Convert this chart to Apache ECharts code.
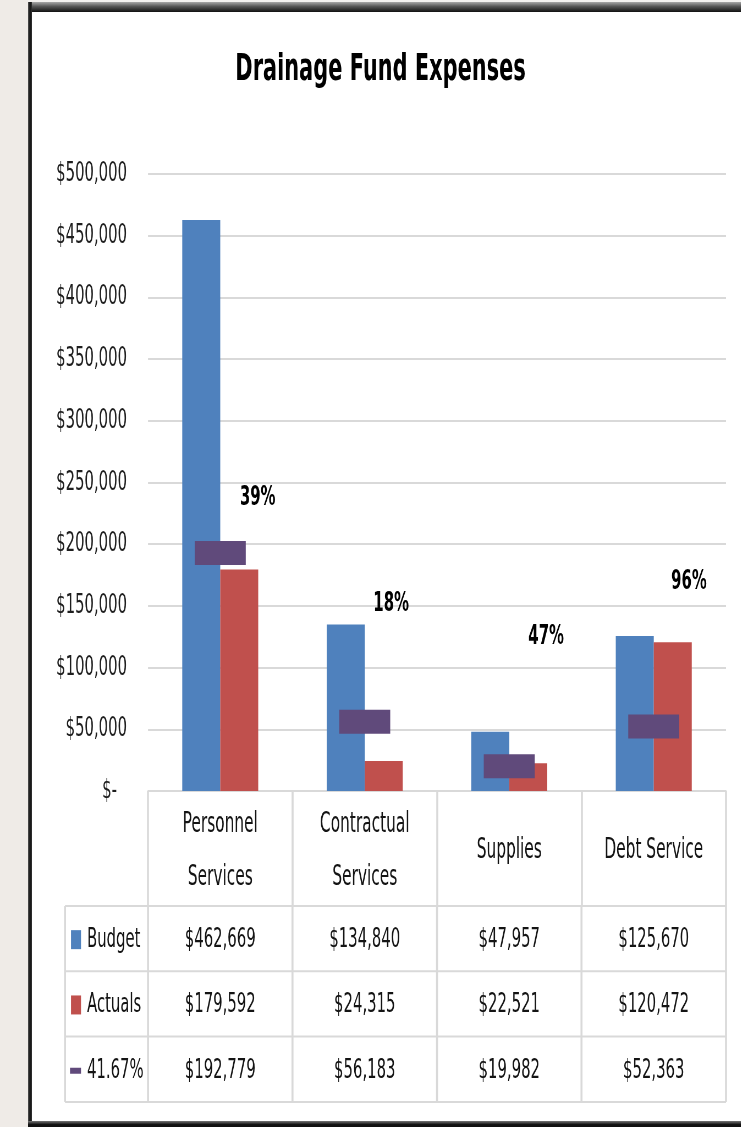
<!DOCTYPE html>
<html>
<head>
<meta charset="utf-8">
<script src="https://cdn.jsdelivr.net/npm/echarts@6/dist/echarts.min.js"></script>
<style>
  html, body { margin: 0; padding: 0; background: #fff; width: 741px; height: 1127px; overflow: hidden; position: relative; }
  #strip  { position: absolute; left: 0; top: 0; width: 28px; height: 1127px; background: #efebe7; }
  #topfill{ position: absolute; left: 28px; top: 0; width: 713px; height: 2px; background: #f4f2f0; }
  #frameL { position: absolute; left: 28px; top: 2px; width: 4px; height: 1125px; background: linear-gradient(90deg, #555, #111 50%, #333); }
  #frameT { position: absolute; left: 28px; top: 2px; width: 713px; height: 10px; background: linear-gradient(#a8a8a8, #555 45%, #111); }
  #frameB { position: absolute; left: 28px; top: 1121px; width: 713px; height: 6px; background: linear-gradient(#777, #111 60%); }
  /* the chart is laid out wide and drawn condensed horizontally */
  #chart  { position: absolute; left: 0; top: 0; width: 1348px; height: 1127px; transform: scaleX(0.55); transform-origin: 0 0; }
</style>
</head>
<body>
<div id="strip"></div>
<div id="topfill"></div>
<div id="frameT"></div>
<div id="frameL"></div>
<div id="frameB"></div>
<div id="chart"></div>
<script>
// ---- data ----
const categories = ['Personnel\nServices', 'Contractual\nServices', 'Supplies', 'Debt Service'];
const budget  = [462669, 134840, 47957, 125670];
const actuals = [179592, 24315, 22521, 120472];
const target  = [192779, 56183, 19982, 52363];   // 41.67% of budget
const seriesNames = ['Budget', 'Actuals', '41.67%'];
const yMin = 0, yMax = 500000, yStep = 50000;
// height (in dollars) at which each spent-ratio label is placed
const ratioLabelAt = [237440, 151540, 124800, 169370];

// ---- layout helpers ----
const SX = 0.55;                 // horizontal condensing of the canvas
const vx = a => a / SX;          // on-screen width -> canvas width
const FONT = 'DejaVu Sans';
const GRID = '#d9d9d9';
const TEXT = '#141414';
const COLORS = ['#4f81bd', '#c0504d', '#604a7b'];
const ratioOffsets = [68, 48, 67, 64];

const money = v => '$' + v.toLocaleString('en-US');

const chart = echarts.init(document.getElementById('chart'), null, { renderer: 'canvas' });

chart.setOption({
  animation: false,
  backgroundColor: 'transparent',
  grid: { left: vx(148), right: 1348 - vx(726), top: 174, bottom: 336, containLabel: false },
  xAxis: {
    type: 'category',
    data: categories,
    axisLine: { show: true, lineStyle: { color: GRID, width: 2 } },
    axisTick: { show: true, interval: 0, length: 115, lineStyle: { color: GRID, width: vx(2) } },
    axisLabel: {
      interval: 0, margin: 60, verticalAlign: 'middle', lineHeight: 53,
      fontFamily: FONT, fontSize: 28, color: TEXT
    },
    splitLine: { show: false }
  },
  yAxis: {
    type: 'value',
    min: yMin, max: yMax, interval: yStep,
    axisLine: { show: false },
    axisTick: { show: false },
    splitLine: { show: true, lineStyle: { color: GRID, width: 2 } },
    axisLabel: {
      margin: vx(21), fontFamily: FONT, fontSize: 27, color: '#1e1e1e',
      formatter: v => v === 0 ? '{z|$-}' : money(v),
      rich: { z: { fontFamily: FONT, fontSize: 27, color: '#1e1e1e', padding: [0, vx(10), 0, 0] } }
    }
  },
  series: [
    {
      name: seriesNames[0], type: 'bar', data: budget,
      barWidth: vx(38), barGap: '0%',
      itemStyle: { color: COLORS[0] }
    },
    {
      name: seriesNames[1], type: 'bar', data: actuals,
      barWidth: vx(38), barGap: '0%',
      itemStyle: { color: COLORS[1] }
    },
    {
      name: seriesNames[2], type: 'scatter', data: target,
      symbol: 'rect', symbolSize: [vx(51), 24], z: 4,
      itemStyle: { color: COLORS[2], opacity: 1 }
    },
    {
      name: 'ratio', type: 'scatter', symbolSize: 0, silent: true, z: 5,
      itemStyle: { opacity: 1 },
      data: ratioLabelAt.map((y, i) => ({ value: [i, y], label: { offset: [ratioOffsets[i], 0] } })),
      label: {
        show: true, position: 'inside', opacity: 1,
        fontFamily: FONT, fontSize: 27, fontWeight: 'bold', color: '#000',
        formatter: p => Math.round(actuals[p.dataIndex] / budget[p.dataIndex] * 100) + '%'
      }
    }
  ]
});

// ---- title and data table ----
function buildTable() {
  const cx = categories.map((_, i) => chart.convertToPixel({ xAxisIndex: 0 }, i));
  const band = cx[1] - cx[0];
  const xl = cx[0] - band / 2;
  const xr = cx[cx.length - 1] + band / 2;
  const y0 = chart.convertToPixel({ yAxisIndex: 0 }, 0);
  const headerH = 115, rowH = 65.3;
  const top = y0 + headerH;
  const legendLeft = xl - vx(83);
  const rows = [budget, actuals, target];
  const els = [];

  els.push({
    type: 'text', x: vx(380.5), y: 70,
    style: { text: 'Drainage Fund Expenses', align: 'center', verticalAlign: 'middle',
             fontFamily: FONT, fontSize: 38, fontWeight: 'bold', fill: '#000' }
  });

  const line = (x1, y1, x2, y2, w) => ({
    type: 'line', shape: { x1, y1, x2, y2 }, silent: true,
    style: { stroke: GRID, lineWidth: w }
  });

  for (let r = 0; r <= rows.length; r++) {
    const y = top + r * rowH;
    els.push(line(legendLeft, y, xr, y, 2));
  }
  const bottom = top + rows.length * rowH;
  els.push(line(legendLeft, top, legendLeft, bottom, vx(2)));
  for (let c = 0; c <= categories.length; c++) {
    const x = xl + c * band;
    els.push(line(x, top, x, bottom, vx(2)));
  }

  rows.forEach((vals, r) => {
    const yc = top + r * rowH + rowH / 2 + 1.5;
    if (r < 2) {
      els.push({ type: 'rect', shape: { x: xl - vx(77), y: yc - 10, width: vx(10), height: 19 },
                 style: { fill: COLORS[r] } });
    } else {
      els.push({ type: 'rect', shape: { x: xl - vx(78), y: yc - 3, width: vx(11), height: 6 },
                 style: { fill: COLORS[r] } });
    }
    els.push({ type: 'text', x: xl - vx(61), y: yc,
               style: { text: seriesNames[r], align: 'left', verticalAlign: 'middle',
                        fontFamily: FONT, fontSize: 27, fill: TEXT } });
    vals.forEach((v, c) => {
      els.push({ type: 'text', x: cx[c], y: yc,
                 style: { text: money(v), align: 'center', verticalAlign: 'middle',
                          fontFamily: FONT, fontSize: 27, fill: TEXT } });
    });
  });

  chart.setOption({ graphic: { elements: els } });
}
buildTable();
</script>
</body>
</html>
